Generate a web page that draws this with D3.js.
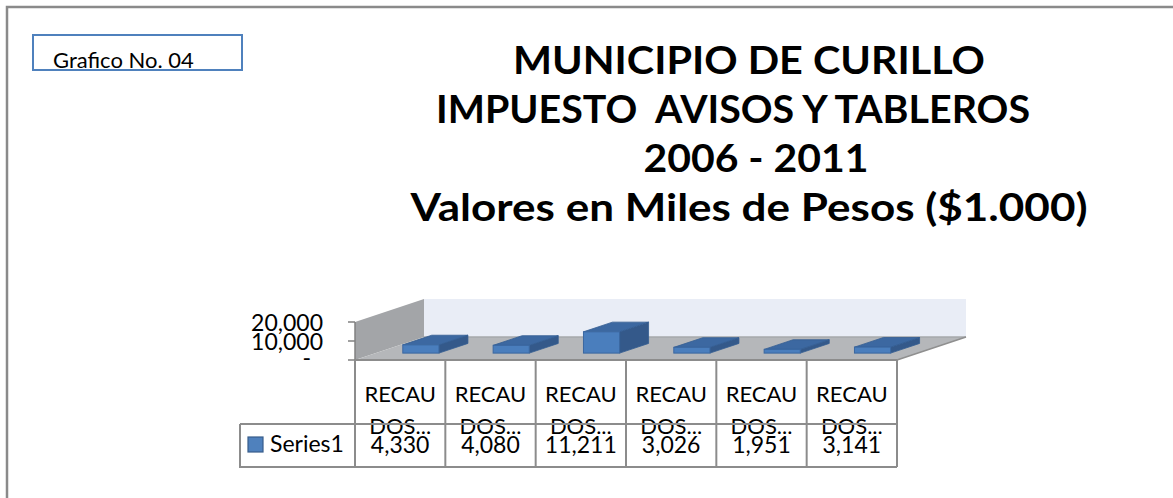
<!DOCTYPE html>
<html>
<head>
<meta charset="utf-8">
<script src="https://cdn.jsdelivr.net/npm/d3@7"></script>
<style>
  body { margin: 0; background: #fff; }
  svg { display: block; font-family: Lato, "Open Sans", sans-serif; }
</style>
</head>
<body>
<svg width="1173" height="498"></svg>
<script>
// data
const categories = ["RECAUDOS 1", "RECAUDOS 2", "RECAUDOS 3", "RECAUDOS 4", "RECAUDOS 5", "RECAUDOS 6"];
const catLines = ["RECAU", "DOS..."];
const values = [4330, 4080, 11211, 3026, 1951, 3141];
const yTicks = [0, 10000, 20000];
const seriesName = "Series1";
const titleLines = ["MUNICIPIO DE CURILLO", "IMPUESTO  AVISOS Y TABLEROS", "2006 - 2011", "Valores en Miles de Pesos ($1.000)"];
const badge = "Grafico No. 04";

const svg = d3.select("svg");

// outer frame (only top and left edges are visible)
svg.append("path")
    .attr("d", "M7,498 L7,7 L1173,7")
    .attr("fill", "none")
    .attr("stroke", "#8a8a8a")
    .attr("stroke-width", 2.5);

// badge box
svg.append("rect")
    .attr("x", 33).attr("y", 35).attr("width", 209).attr("height", 35)
    .attr("fill", "#fff").attr("stroke", "#4f81bd").attr("stroke-width", 2);
svg.append("text")
    .attr("x", 53).attr("y", 68)
    .attr("font-size", 22)
    .text(badge);

// title
const titleX = [749, 733, 756, 749];
const titleW = [472, 594, 225, 677];
svg.append("g").selectAll("text")
    .data(titleLines)
    .join("text")
    .attr("x", (d, i) => titleX[i])
    .attr("y", (d, i) => 74 + i * 49)
    .attr("text-anchor", "middle")
    .attr("font-weight", "bold")
    .attr("font-size", 38)
    .attr("xml:space", "preserve")
    .attr("textLength", (d, i) => titleW[i])
    .attr("lengthAdjust", "spacingAndGlyphs")
    .text(d => d);

// 3d plot geometry
const x0 = 355, x1 = 897, floorY = 360;
const dx = 69, dy = -23;           // depth vector
const x = d3.scaleBand().domain(categories).range([x0, x1]);
const y = d3.scaleLinear().domain([0, 20000]).range([floorY, floorY - 38]);
const wallTop = y(20000);

const pt = (px, py) => px + "," + py;
const g = svg.append("g");

// back wall
g.append("polygon")
    .attr("points", [pt(x0 + dx, wallTop + dy), pt(x1 + dx, wallTop + dy), pt(x1 + dx, floorY + dy), pt(x0 + dx, floorY + dy)].join(" "))
    .attr("fill", "#e9edf6");
// left wall
g.append("polygon")
    .attr("points", [pt(x0, floorY), pt(x0 + dx, floorY + dy), pt(x0 + dx, wallTop + dy), pt(x0, wallTop)].join(" "))
    .attr("fill", "#a3a5a8");
// floor
g.append("polygon")
    .attr("points", [pt(x0, floorY), pt(x1, floorY), pt(x1 + dx, floorY + dy), pt(x0 + dx, floorY + dy)].join(" "))
    .attr("fill", "#b5b7ba");
g.append("line")
    .attr("x1", x0 + dx).attr("x2", x1 + dx).attr("y1", floorY + dy).attr("y2", floorY + dy)
    .attr("stroke", "#a6a8ab").attr("stroke-width", 1.5);
g.append("line")
    .attr("x1", x1).attr("y1", floorY).attr("x2", x1 + dx).attr("y2", floorY + dy)
    .attr("stroke", "#8f8f8f").attr("stroke-width", 1.5);

// bars
const d0 = 0.3, d1 = 0.72, barFrac = 0.4;
const barW = x.bandwidth() * barFrac;
const bars = g.append("g").selectAll("g")
    .data(values)
    .join("g");
bars.each(function(v, i) {
    const b = d3.select(this);
    const fx = x(categories[i]) + (x.bandwidth() - barW) / 2 + dx * d0;
    const fb = floorY + dy * d0;
    const h = floorY - y(v);
    const ft = fb - h;
    const ddx = dx * (d1 - d0), ddy = dy * (d1 - d0);
    // right side
    b.append("polygon")
        .attr("points", [pt(fx + barW, fb), pt(fx + barW + ddx, fb + ddy), pt(fx + barW + ddx, ft + ddy), pt(fx + barW, ft)].join(" "))
        .attr("fill", "#34598a").attr("stroke", "#345d92").attr("stroke-width", 0.8);
    // top
    b.append("polygon")
        .attr("points", [pt(fx, ft), pt(fx + barW, ft), pt(fx + barW + ddx, ft + ddy), pt(fx + ddx, ft + ddy)].join(" "))
        .attr("fill", "#3c68a1").attr("stroke", "#345d92").attr("stroke-width", 0.8);
    // front
    b.append("rect")
        .attr("x", fx).attr("y", ft).attr("width", barW).attr("height", h)
        .attr("fill", "#4a7ebd").attr("stroke", "#3a67a0").attr("stroke-width", 1);
});

// value axis
g.append("line")
    .attr("x1", x0).attr("x2", x0).attr("y1", y(20000)).attr("y2", floorY)
    .attr("stroke", "#808080").attr("stroke-width", 1.5);
const tickFmt = d3.format(",");
const ticks = g.append("g").selectAll("g")
    .data(yTicks)
    .join("g")
    .attr("transform", d => `translate(0,${y(d)})`);
ticks.append("line")
    .attr("x1", x0 - 7).attr("x2", x0)
    .attr("stroke", "#808080").attr("stroke-width", 1.5);
ticks.append("text")
    .attr("x", d => d === 0 ? 311 : 323)
    .attr("y", d => d === 0 ? 6 : 9)
    .attr("text-anchor", "end")
    .attr("font-size", 23)
    .text(d => d === 0 ? "-" : tickFmt(d));

// data table
const rowTop = 424, rowBot = 467, legLeft = 240;
const t = svg.append("g");
t.selectAll("text.cat1")
    .data(categories)
    .join("text")
    .attr("class", "cat1")
    .attr("x", d => x(d) + x.bandwidth() / 2)
    .attr("y", 402)
    .attr("text-anchor", "middle")
    .attr("font-size", 22)
    .text(catLines[0]);
t.selectAll("text.cat2")
    .data(categories)
    .join("text")
    .attr("class", "cat2")
    .attr("x", d => x(d) + x.bandwidth() / 2)
    .attr("y", 434)
    .attr("text-anchor", "middle")
    .attr("font-size", 22)
    .text(catLines[1]);
t.selectAll("text.val")
    .data(values)
    .join("text")
    .attr("class", "val")
    .attr("x", (d, i) => x(categories[i]) + x.bandwidth() / 2)
    .attr("y", 453)
    .attr("text-anchor", "middle")
    .attr("font-size", 23)
    .text(d => tickFmt(d));

t.append("rect")
    .attr("x", 248).attr("y", 437).attr("width", 15).attr("height", 15)
    .attr("fill", "#4f81bd").attr("stroke", "#385d8a").attr("stroke-width", 1.2);
t.append("text")
    .attr("x", 270).attr("y", 452)
    .attr("font-size", 23)
    .text(seriesName);

const lineCol = "#8c8c8c";
// vertical grid lines between categories
t.selectAll("line.v")
    .data(categories.concat(["end"]))
    .join("line")
    .attr("class", "v")
    .attr("x1", (d, i) => i < categories.length ? x(d) : x1)
    .attr("x2", (d, i) => i < categories.length ? x(d) : x1)
    .attr("y1", floorY).attr("y2", rowBot)
    .attr("stroke", lineCol).attr("stroke-width", 2);
t.append("path")
    .attr("d", `M${legLeft},${rowTop} L${x1},${rowTop} M${legLeft},${rowTop} L${legLeft},${rowBot} L${x1},${rowBot}`)
    .attr("fill", "none")
    .attr("stroke", lineCol).attr("stroke-width", 2);
// front floor edge
t.append("line")
    .attr("x1", x0).attr("x2", x1).attr("y1", floorY).attr("y2", floorY)
    .attr("stroke", lineCol).attr("stroke-width", 2);
</script>
</body>
</html>
